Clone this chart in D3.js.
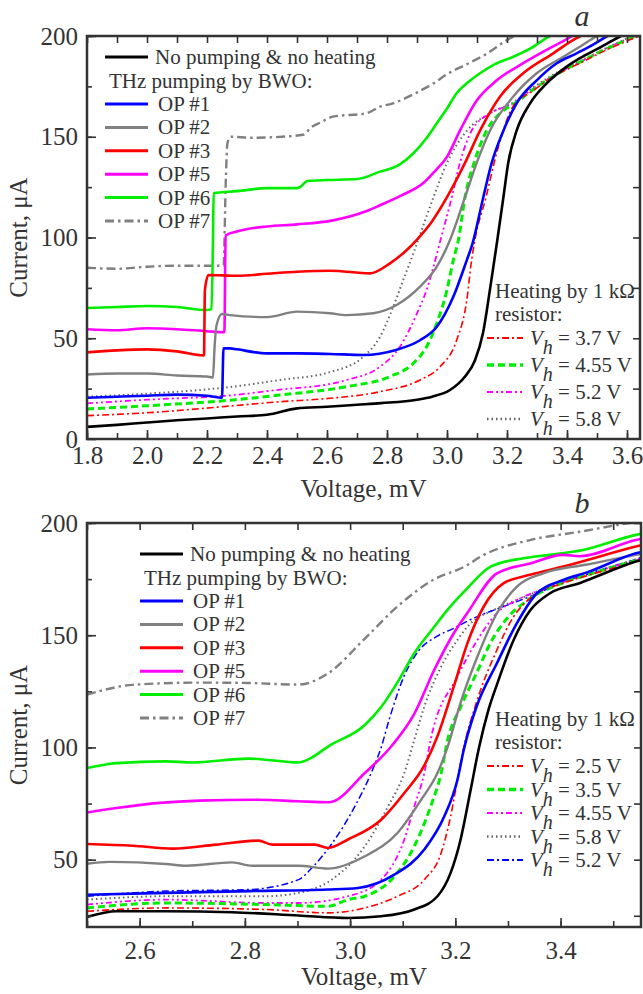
<!DOCTYPE html>
<html>
<head>
<meta charset="utf-8">
<script src="https://cdn.jsdelivr.net/npm/d3@7/dist/d3.min.js"></script>
<style>
body{margin:0;background:#fff;}
svg text{font-family:"Liberation Serif","Times New Roman",Tinos,"DejaVu Serif",serif;fill:#333;}
</style>
</head>
<body>
<svg id="viewer"></svg>
<script>
// ---- panel a : [voltage mV, current uA] ----
var aBlack = [[1.8,6],[1.9,7],[2.0,8.2],[2.1,9.3],[2.2,10.2],[2.3,11.2],[2.4,12],[2.5,15.2],[2.6,16],[2.7,17],[2.78,17.8],[2.9,19.5],[2.95,21],[3.01,24.3],[3.06,31],[3.093,39],[3.12,52.6],[3.143,74],[3.167,98],[3.188,120],[3.204,137],[3.232,153],[3.277,166.6],[3.332,176.5],[3.399,184.8],[3.443,189],[3.5,193.5],[3.58,200],[3.64,204]];
var aOP1 = [[1.8,20.5],[1.9,21],[2.0,21.5],[2.1,22],[2.2,21.5],[2.25,20.5],[2.255,45],[2.277,45],[2.3,44.5],[2.4,42.5],[2.5,42.5],[2.61,42.2],[2.72,41.7],[2.83,44.2],[2.91,49],[2.966,55.7],[3.021,70.6],[3.066,88.8],[3.085,97],[3.121,120],[3.149,137],[3.188,153],[3.232,166.6],[3.299,178],[3.366,186.5],[3.432,191.4],[3.49,196],[3.535,200],[3.6,204]];
var aOP2 = [[1.8,32],[1.9,32.5],[2.0,32.5],[2.1,31.5],[2.2,31],[2.22,30.5],[2.225,45],[2.232,56.6],[2.25,62],[2.277,61.5],[2.4,60.5],[2.5,63.2],[2.61,62.4],[2.666,61.5],[2.754,62.4],[2.832,66.5],[2.91,75.6],[2.966,85.5],[3.01,98.8],[3.06,120],[3.099,137],[3.143,153],[3.221,170],[3.299,181.5],[3.388,189.7],[3.443,194.7],[3.5,200],[3.56,204]];
var aOP3 = [[1.8,43],[1.9,44],[2.0,44.5],[2.1,43.5],[2.19,41.5],[2.193,74],[2.205,81.4],[2.3,81],[2.4,82],[2.5,83],[2.61,83.5],[2.743,82.2],[2.81,87.2],[2.866,93.8],[2.9,99],[2.95,108],[3.0,120],[3.06,137],[3.11,153],[3.177,170],[3.254,181.5],[3.354,191.4],[3.42,198],[3.46,201]];
var aOP5 = [[1.8,54.5],[1.9,54],[2.0,55],[2.1,54.5],[2.2,53.5],[2.258,53],[2.262,101],[2.3,103],[2.4,105.5],[2.5,106.5],[2.62,108.5],[2.73,113],[2.777,116],[2.85,121],[2.921,127],[2.96,133],[3.0,140],[3.043,153],[3.099,168],[3.166,178],[3.254,186.5],[3.393,198],[3.43,201]];
var aOP6 = [[1.8,65],[1.9,65.5],[2.0,66],[2.1,65.5],[2.2,64],[2.215,64.5],[2.22,100],[2.222,122],[2.3,123],[2.4,124.5],[2.5,124.5],[2.51,125],[2.535,128],[2.6,128.5],[2.7,129],[2.777,132.7],[2.84,136],[2.888,141.8],[2.93,149],[2.966,156.7],[3.0,164],[3.032,171.6],[3.07,177],[3.11,181.5],[3.16,186],[3.221,189.7],[3.28,194],[3.343,200],[3.4,203]];
var aOP7 = [[1.8,85],[1.9,84.5],[2.0,85.5],[2.1,86],[2.2,86],[2.255,86],[2.263,130],[2.268,146.7],[2.28,150],[2.35,149.5],[2.45,150],[2.52,151],[2.55,155],[2.577,157],[2.62,160],[2.73,161.6],[2.777,164.9],[2.82,166.6],[2.9,172],[2.955,176.5],[3.0,181],[3.066,186],[3.13,191],[3.2,198],[3.24,201]];
var aH37 = [[1.8,11.6],[2.0,13],[2.288,16.5],[2.443,18.5],[2.61,20.2],[2.777,23.5],[2.91,29.3],[2.977,35.9],[3.032,49],[3.066,69],[3.082,88.8],[3.093,98.8],[3.13,120],[3.157,137],[3.187,153],[3.22,165],[3.288,173],[3.354,179.8],[3.443,186.5],[3.53,193],[3.64,200]];
var aH455 = [[1.8,14.9],[2.0,16.5],[2.288,19.4],[2.443,21.8],[2.666,26],[2.81,31],[2.888,37.6],[2.932,45.8],[2.966,57.4],[3.0,74],[3.021,88.8],[3.038,98.8],[3.06,120],[3.09,137],[3.132,153],[3.188,163],[3.22,166],[3.288,173.5],[3.354,180],[3.443,187],[3.53,193.5],[3.64,200.5]];
var aH52 = [[1.8,17.7],[2.0,19.5],[2.288,21.8],[2.443,24.5],[2.61,27.3],[2.666,29.3],[2.777,35.9],[2.843,45.8],[2.9,62.4],[2.932,74],[2.955,85.5],[2.977,98],[3.016,120],[3.043,137],[3.082,153],[3.143,161.6],[3.22,166.5],[3.288,174],[3.354,180.3],[3.443,187],[3.53,193.8],[3.64,201]];
var aH58 = [[1.8,21],[2.0,22.5],[2.288,26],[2.443,29.3],[2.61,33.2],[2.721,40.8],[2.777,50.8],[2.821,65.7],[2.854,78.9],[2.888,92.2],[2.904,98.8],[2.955,120],[3.0,137],[3.066,153],[3.143,161.6],[3.22,167],[3.288,174.5],[3.354,180.8],[3.443,187.5],[3.53,194],[3.64,201.5]];

// ---- panel b ----
var bBlack = [[2.5,24.5],[2.556,27],[2.65,27],[2.776,26.6],[2.902,25.1],[2.996,24],[3.059,24.8],[3.122,27.8],[3.166,33.7],[3.191,44.1],[3.21,59],[3.229,81],[3.245,100],[3.262,116],[3.279,128],[3.311,148],[3.342,161],[3.38,168.7],[3.436,173.2],[3.543,182.8],[3.56,184]];
var bOP1 = [[2.5,34.4],[2.65,35.2],[2.808,36],[2.958,36.7],[3.015,37.4],[3.084,43.3],[3.141,54.5],[3.179,69.3],[3.204,85.6],[3.216,99],[3.24,118],[3.279,137.5],[3.317,155.4],[3.355,168.7],[3.405,174.6],[3.45,178],[3.543,186.5],[3.56,187.5]];
var bOP2 = [[2.5,48.2],[2.543,49],[2.65,48.1],[2.688,47.3],[2.776,48.8],[2.814,47.3],[2.902,47.3],[2.958,46],[3.028,51.5],[3.09,61.9],[3.135,76.7],[3.166,88.6],[3.185,100],[3.21,120],[3.242,140.5],[3.279,159.8],[3.317,171.7],[3.367,177.6],[3.45,181.5],[3.543,185.8],[3.56,186.5]];
var bOP3 = [[2.5,57],[2.587,56.2],[2.663,54.9],[2.745,56.7],[2.826,58.5],[2.852,56.7],[2.933,56.7],[2.958,55.2],[2.996,59],[3.059,67.8],[3.103,79.7],[3.141,92],[3.166,105],[3.197,127.1],[3.223,146.5],[3.254,162.8],[3.292,173.2],[3.342,176.9],[3.405,180.6],[3.543,189.5],[3.56,190.5]];
var bOP5 = [[2.5,71],[2.556,73],[2.638,75.3],[2.713,76.3],[2.826,76.7],[2.902,76],[2.96,75.6],[3.028,88.6],[3.08,101],[3.122,115],[3.16,134.6],[3.197,150.9],[3.223,160],[3.279,177.6],[3.342,182],[3.405,185.8],[3.436,185.2],[3.543,192.4],[3.56,193.2]];
var bOP6 = [[2.5,90.8],[2.556,93],[2.65,93.8],[2.7,93.3],[2.808,95],[2.902,93.3],[2.927,95.5],[2.958,100.4],[3.028,110],[3.059,118],[3.09,129],[3.122,142],[3.16,153.8],[3.185,161.3],[3.223,171],[3.267,180.6],[3.33,184.3],[3.38,185.8],[3.443,188],[3.543,194.7],[3.56,195.5]];
var bOP7 = [[2.5,123.5],[2.587,127.9],[2.713,128.9],[2.808,128.7],[2.902,128],[2.958,133],[3.028,148.5],[3.09,162.8],[3.153,174],[3.223,181.3],[3.248,185],[3.342,192.4],[3.436,196.1],[3.531,200],[3.56,201]];
var bH25 = [[2.5,27],[2.65,28.5],[2.839,27.8],[2.958,26.3],[3.028,28.5],[3.09,33.7],[3.141,41.1],[3.173,53],[3.191,69.3],[3.204,85.6],[3.216,100],[3.24,120],[3.279,143.5],[3.31,158],[3.342,166.5],[3.405,173.2],[3.45,176.5],[3.543,182.8],[3.56,184]];
var bH35 = [[2.5,28.5],[2.65,30.7],[2.839,30],[2.958,29.2],[2.996,32.2],[3.028,33.7],[3.078,41],[3.122,56],[3.153,73.7],[3.173,88.6],[3.185,103],[3.21,118],[3.24,133],[3.27,148],[3.3,158],[3.34,166],[3.405,173.4],[3.45,176.8],[3.543,183.2],[3.56,184.3]];
var bH455 = [[2.5,30],[2.65,32.2],[2.839,30.7],[2.902,30.7],[2.996,33.7],[3.059,41.1],[3.103,59],[3.122,73.7],[3.141,88.6],[3.153,103.4],[3.204,131.6],[3.242,147.9],[3.279,159.8],[3.317,165.7],[3.36,170],[3.405,173.6],[3.45,177],[3.543,183.5],[3.56,184.6]];
var bH58 = [[2.5,32.2],[2.65,33.7],[2.839,33.7],[2.902,35.2],[2.965,41.1],[3.028,56],[3.072,73.7],[3.103,88.6],[3.122,103.4],[3.141,118.2],[3.173,136],[3.204,147.9],[3.223,153.8],[3.28,162],[3.33,167],[3.405,174],[3.45,177.2],[3.543,183.8],[3.56,185]];
var bH52 = [[2.5,33.7],[2.65,36],[2.808,36.7],[2.902,41.1],[2.93,47],[2.965,57],[3.009,73.7],[3.04,88.6],[3.059,100],[3.075,113],[3.103,132],[3.13,143],[3.165,149.5],[3.197,153.1],[3.229,157],[3.3,163.5],[3.35,168],[3.405,173.8],[3.45,177.2],[3.543,183.8],[3.56,185]];

// tick labels
var xTicksA = [1.8,2.0,2.2,2.4,2.6,2.8,3.0,3.2,3.4,3.6];
var xTicksB = [2.6,2.8,3.0,3.2,3.4];
var yTicksA = [0,50,100,150,200];
var yTicksB = [50,100,150,200];

// legend texts
var opLabels = ['OP #1','OP #2','OP #3','OP #5','OP #6','OP #7'];
var heatLabelsA = ['3.7 V','4.55 V','5.2 V','5.8 V'];
var heatLabelsB = ['2.5 V','3.5 V','4.55 V','5.8 V','5.2 V'];

// styles
var FONT = '"Liberation Serif","Times New Roman",Tinos,"DejaVu Serif",serif';
var stBlack = {color:'#000',width:2.6,dash:null};
var stOP = [
  {color:'#0000ff',width:2.6,dash:null},
  {color:'#808080',width:2.4,dash:null},
  {color:'#ff0000',width:2.6,dash:null},
  {color:'#ff00ff',width:2.6,dash:null},
  {color:'#00ee00',width:2.6,dash:null},
  {color:'#808080',width:2.4,dash:'9,4,2.5,4'}
];
var stRedDD = {color:'#ff0000',width:1.6,dash:'7,3,2,3'};
var stGreenDash = {color:'#00ee00',width:3,dash:'7,4'};
var stMagDD = {color:'#ff00ff',width:1.8,dash:'6,3,2,3,2,3'};
var stDot = {color:'#666',width:2,dash:'1.5,3'};
var stBlueDD = {color:'#0000ff',width:1.5,dash:'7,3,2,3'};

var svg = d3.select('#viewer')
  .attr('width',643)
  .attr('height',994)
  .attr('font-family',FONT);
svg.append('rect').attr('width',643).attr('height',994).attr('fill','#fff');

var fmt1 = d3.format('.1f');

function drawPanel(p)
{
  var x = d3.scaleLinear().domain(p.xDomain).range([p.left,p.right]);
  var y = d3.scaleLinear().domain(p.yDomain).range([p.bottom,p.top]);

  svg.append('clipPath').attr('id','clip'+p.id)
    .append('rect')
      .attr('x',p.left).attr('y',p.top)
      .attr('width',p.right-p.left).attr('height',p.bottom-p.top);

  var line = d3.line()
    .x(function(d){return x(d[0]);})
    .y(function(d){return y(d[1]);})
    .curve(d3.curveMonotoneX);

  svg.append('g')
    .attr('clip-path','url(#clip'+p.id+')')
    .selectAll('path')
    .data(p.series)
    .enter().append('path')
      .attr('d',function(s){return line(s.data);})
      .attr('fill','none')
      .attr('stroke',function(s){return s.st.color;})
      .attr('stroke-width',function(s){return s.st.width;})
      .attr('stroke-dasharray',function(s){return s.st.dash;})
      .attr('stroke-linejoin','round');

  // minor + major ticks, all pointing inward
  var xMinor = d3.range(Math.round(p.xDomain[0]*10),Math.floor(p.xDomain[1]*10+0.001)+1).map(function(v){return v/10;});
  var yMinor = d3.range(0,201,25).filter(function(v){return v>p.yDomain[0];});

  function styleAxis(g)
  {
    g.attr('color','#333').attr('font-size',25).attr('font-family',FONT);
    g.select('.domain').remove();
    g.selectAll('line').attr('stroke-width',1.6);
  }

  svg.append('g').attr('transform','translate(0,'+p.bottom+')')
    .call(d3.axisBottom(x).tickValues(xMinor).tickSize(-6).tickFormat(''))
    .call(styleAxis);
  svg.append('g').attr('transform','translate(0,'+p.bottom+')')
    .call(d3.axisBottom(x).tickValues(p.xTicks).tickSize(-9).tickPadding(p.xPad).tickFormat(fmt1))
    .call(styleAxis);
  svg.append('g').attr('transform','translate(0,'+p.top+')')
    .call(d3.axisTop(x).tickValues(xMinor).tickSize(-7).tickFormat(''))
    .call(styleAxis);
  svg.append('g').attr('transform','translate('+p.left+',0)')
    .call(d3.axisLeft(y).tickValues(yMinor).tickSize(-5).tickFormat(''))
    .call(styleAxis);
  svg.append('g').attr('transform','translate('+p.left+',0)')
    .call(d3.axisLeft(y).tickValues(p.yTicks).tickSize(-9).tickPadding(9).tickFormat(d3.format('d')))
    .call(styleAxis);
  svg.append('g').attr('transform','translate('+p.right+',0)')
    .call(d3.axisRight(y).tickValues(yMinor).tickSize(-7).tickFormat(''))
    .call(styleAxis);

  svg.append('rect')
    .attr('x',p.left).attr('y',p.top)
    .attr('width',p.right-p.left).attr('height',p.bottom-p.top)
    .attr('fill','none').attr('stroke','#333').attr('stroke-width',2.5);

  // axis titles
  svg.append('text')
    .attr('x',(p.left+p.right)/2).attr('y',p.bottom+58)
    .attr('text-anchor','middle').attr('font-size',25)
    .text('Voltage, mV');
  svg.append('text')
    .attr('transform','translate(27,'+((p.top+p.bottom)/2)+') rotate(-90)')
    .attr('text-anchor','middle').attr('font-size',25)
    .text('Current, \u03bcA');
  svg.append('text')
    .attr('x',582).attr('y',p.top-10)
    .attr('text-anchor','middle').attr('font-size',30).attr('font-style','italic')
    .text(p.id);

  // legend: pumping
  var L = p.leg1;
  svg.append('line')
    .attr('x1',L.x1).attr('x2',L.x1+43).attr('y1',L.y).attr('y2',L.y)
    .attr('stroke','#000').attr('stroke-width',2.8);
  svg.append('text').attr('x',L.x1+50).attr('y',L.y+7).attr('font-size',21)
    .text('No pumping & no heating');
  svg.append('text').attr('x',L.x1+4).attr('y',L.y+31).attr('font-size',21)
    .text('THz pumping by BWO:');
  var rows = svg.selectAll('.op'+p.id)
    .data(opLabels)
    .enter().append('g')
      .attr('class','op'+p.id)
      .attr('transform',function(d,i){return 'translate('+L.x1+','+(L.y+47+i*23.4)+')';});
  rows.append('line')
    .attr('x1',0).attr('x2',43)
    .attr('stroke',function(d,i){return stOP[i].color;})
    .attr('stroke-width',3)
    .attr('stroke-dasharray',function(d,i){return stOP[i].dash;});
  rows.append('text').attr('x',53).attr('y',7).attr('font-size',21)
    .text(function(d){return d;});

  // legend: heating
  var H = p.leg2;
  svg.append('text').attr('x',495).attr('y',H.y).attr('font-size',21)
    .text('Heating by 1 k\u03a9');
  svg.append('text').attr('x',495).attr('y',H.y+23).attr('font-size',21)
    .text('resistor:');
  var hrows = svg.selectAll('.h'+p.id)
    .data(p.heatLabels)
    .enter().append('g')
      .attr('class','h'+p.id)
      .attr('transform',function(d,i){return 'translate(487,'+(H.y+40+i*H.step)+')';});
  hrows.append('line')
    .attr('x1',0).attr('x2',36)
    .attr('stroke',function(d,i){return p.heatStyles[i].color;})
    .attr('stroke-width',function(d,i){return p.heatStyles[i].width+0.3;})
    .attr('stroke-dasharray',function(d,i){return p.heatStyles[i].dash;});
  var ht = hrows.append('text').attr('x',43).attr('y',7).attr('font-size',21);
  ht.append('tspan').attr('font-style','italic').text('V');
  ht.append('tspan').attr('font-style','italic').attr('dy',9).attr('font-size',20).text('h');
  ht.append('tspan').attr('dy',-9).text(function(d){return ' = '+d;});
}

drawPanel({
  id:'a', left:87, right:640, top:36, bottom:439,
  xDomain:[1.8,3.6433], yDomain:[0,200],
  xTicks:xTicksA, yTicks:yTicksA, xPad:7,
  series:[
    {data:aH58,st:stDot},{data:aH52,st:stMagDD},{data:aH455,st:stGreenDash},{data:aH37,st:stRedDD},
    {data:aOP7,st:stOP[5]},{data:aOP6,st:stOP[4]},{data:aOP5,st:stOP[3]},{data:aOP3,st:stOP[2]},
    {data:aOP2,st:stOP[1]},{data:aOP1,st:stOP[0]},{data:aBlack,st:stBlack}
  ],
  leg1:{x1:105,y:57},
  leg2:{y:298,step:27},
  heatLabels:heatLabelsA, heatStyles:[stRedDD,stGreenDash,stMagDD,stDot]
});

drawPanel({
  id:'b', left:87, right:641, top:523, bottom:927,
  xDomain:[2.5,3.5528], yDomain:[20,200],
  xTicks:xTicksB, yTicks:yTicksB, xPad:14,
  series:[
    {data:bH58,st:stDot},{data:bH52,st:stBlueDD},{data:bH455,st:stMagDD},{data:bH35,st:stGreenDash},{data:bH25,st:stRedDD},
    {data:bOP7,st:stOP[5]},{data:bOP6,st:stOP[4]},{data:bOP5,st:stOP[3]},{data:bOP3,st:stOP[2]},
    {data:bOP2,st:stOP[1]},{data:bOP1,st:stOP[0]},{data:bBlack,st:stBlack}
  ],
  leg1:{x1:140,y:554},
  leg2:{y:726,step:23.5},
  heatLabels:heatLabelsB, heatStyles:[stRedDD,stGreenDash,stMagDD,stDot,stBlueDD]
});
</script>
</body>
</html>
